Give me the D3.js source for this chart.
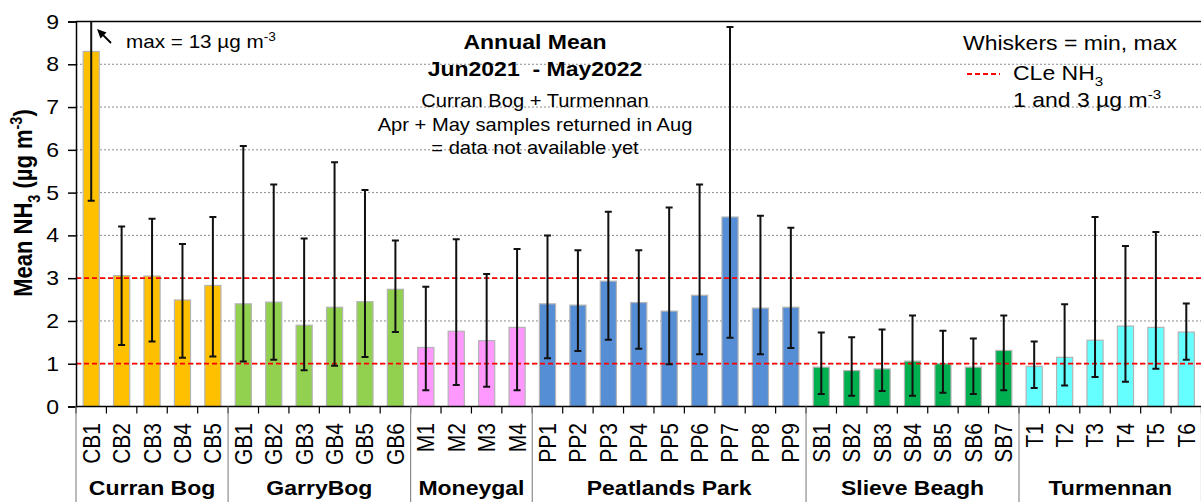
<!DOCTYPE html>
<html>
<head>
<meta charset="utf-8">
<script src="https://cdn.jsdelivr.net/npm/d3@7"></script>
<style>
  body { margin: 0; background: #fff; }
  svg { display: block; font-family: "Liberation Sans", Arial, sans-serif; }
</style>
</head>
<body>
<svg id="chart" width="1201" height="502"></svg>
<script>
// ---- data: annual mean NH3 per site, with min / max whiskers ----
const sites = [
  "CB1","CB2","CB3","CB4","CB5",
  "GB1","GB2","GB3","GB4","GB5","GB6",
  "M1","M2","M3","M4",
  "PP1","PP2","PP3","PP4","PP5","PP6","PP7","PP8","PP9",
  "SB1","SB2","SB3","SB4","SB5","SB6","SB7",
  "T1","T2","T3","T4","T5","T6"
];
const groupNames  = ["Curran Bog", "GarryBog", "Moneygal", "Peatlands Park", "Slieve Beagh", "Turmennan"];
const groupSizes  = [5, 6, 4, 9, 7, 6];
const groupColors = ["#FFC000", "#92D050", "#FF99FF", "#558ED5", "#00B050", "#66FFFF"];

const meanNH3 = [
  8.30, 3.06, 3.05, 2.49, 2.83,
  2.40, 2.44, 1.90, 2.32, 2.45, 2.74,
  1.38, 1.76, 1.54, 1.85,
  2.40, 2.37, 2.93, 2.43, 2.23, 2.60, 4.43, 2.30, 2.32,
  0.92, 0.84, 0.88, 1.06, 1.00, 0.92, 1.31,
  0.94, 1.15, 1.55, 1.88, 1.85, 1.74
];
const minNH3 = [
  4.81, 1.44, 1.52, 1.14, 1.17,
  1.05, 1.09, 0.85, 0.95, 1.16, 1.74,
  0.38, 0.50, 0.46, 0.38,
  1.13, 1.30, 1.56, 1.35, 0.99, 1.22, 1.61, 1.22, 1.37,
  0.29, 0.25, 0.36, 0.25, 0.32, 0.29, 0.38,
  0.43, 0.49, 0.69, 0.58, 0.88, 1.09
];
const maxNH3 = [
  13.0, 4.21, 4.39, 3.80, 4.43,
  6.09, 5.19, 3.93, 5.71, 5.06, 3.88,
  2.80, 3.91, 3.10, 3.68,
  4.00, 3.65, 4.55, 3.65, 4.65, 5.19, 8.87, 4.46, 4.18,
  1.73, 1.62, 1.80, 2.13, 1.77, 1.59, 2.13,
  1.52, 2.39, 4.43, 3.75, 4.08, 2.41
];
const yTicks = [0, 1, 2, 3, 4, 5, 6, 7, 8, 9];
const criticalLevels = [1, 3];

// ---- layout ----
const svg = d3.select("#chart");
const plotLeft = 76, plotRight = 1201.5, plotTop = 21.5, plotBottom = 406.5;
const SX = 1.15;               // horizontal stretch applied to all text
const font = '"Liberation Sans", Arial, sans-serif';

const x = d3.scaleBand().domain(sites).range([plotLeft, plotRight]).paddingInner(0.47).paddingOuter(0.235);
const y = d3.scaleLinear().domain([0, 9]).range([plotBottom, plotTop]);

const siteGroup = [];
groupSizes.forEach((n, gi) => { for (let k = 0; k < n; k++) siteGroup.push(gi); });

// text helper: positioned, horizontally stretched, optionally rotated
function label(parent, px, py, opts) {
  const t = parent.append("text")
    .attr("transform", `translate(${px},${py}) scale(${SX},1)` + (opts.rotate ? ` rotate(${opts.rotate})` : ""))
    .attr("font-family", font)
    .attr("font-size", opts.size)
    .attr("font-weight", opts.bold ? "bold" : "normal")
    .attr("text-anchor", opts.anchor || "start")
    .attr("fill", "#000");
  const parts = Array.isArray(opts.text) ? opts.text : [[opts.text, 0]];
  let shift = 0;
  parts.forEach(([s, kind], idx) => {
    const ts = t.append("tspan").text(s);
    let target = 0;
    if (kind === "sub") { target = opts.size * 0.3; ts.attr("font-size", opts.size * 0.66); }
    if (kind === "sup") { target = -opts.size * 0.38; ts.attr("font-size", opts.size * 0.66); }
    let d = target - shift;
    if (idx === 0 && opts.dy) d += opts.dy * opts.size;
    if (d !== 0) ts.attr("dy", d);
    shift = target;
  });
  return t;
}

// ---- gridlines ----
svg.append("g").selectAll("line").data(yTicks.filter(v => v > 0 && v < 9)).join("line")
  .attr("x1", plotLeft).attr("x2", plotRight)
  .attr("y1", d => y(d)).attr("y2", d => y(d))
  .attr("stroke", "#8c8c8c").attr("stroke-width", 1).attr("stroke-dasharray", "2,2");

// top frame line
svg.append("line").attr("x1", plotLeft).attr("x2", plotRight).attr("y1", y(9)).attr("y2", y(9))
  .attr("stroke", "#000").attr("stroke-width", 1.5);

// ---- bars ----
svg.append("g").selectAll("rect").data(sites).join("rect")
  .attr("x", d => x(d))
  .attr("width", x.bandwidth())
  .attr("y", (d, i) => y(meanNH3[i]))
  .attr("height", (d, i) => y(0) - y(meanNH3[i]))
  .attr("fill", (d, i) => groupColors[siteGroup[i]])
  .attr("stroke", "#b4b4b4").attr("stroke-width", 1.2);

// ---- critical level lines ----
svg.append("g").selectAll("line").data(criticalLevels).join("line")
  .attr("x1", plotLeft).attr("x2", plotRight)
  .attr("y1", d => y(d)).attr("y2", d => y(d))
  .attr("stroke", "#FF0000").attr("stroke-width", 1.8).attr("stroke-dasharray", "5,3");

// ---- whiskers (min to max), clipped to the plot area ----
svg.append("clipPath").attr("id", "plotClip").append("rect")
  .attr("x", plotLeft).attr("y", plotTop).attr("width", plotRight - plotLeft).attr("height", plotBottom - plotTop);
const whisk = svg.append("g").attr("clip-path", "url(#plotClip)")
  .attr("stroke", "#111").attr("stroke-width", 2);
const cx = d => x(d) + x.bandwidth() / 2;
whisk.selectAll("line.stem").data(sites).join("line").attr("class", "stem")
  .attr("x1", cx).attr("x2", cx)
  .attr("y1", (d, i) => y(minNH3[i])).attr("y2", (d, i) => y(maxNH3[i]));
whisk.selectAll("line.capLo").data(sites).join("line").attr("class", "capLo")
  .attr("x1", d => cx(d) - 3.5).attr("x2", d => cx(d) + 3.5)
  .attr("y1", (d, i) => y(minNH3[i])).attr("y2", (d, i) => y(minNH3[i]));
whisk.selectAll("line.capHi").data(sites).join("line").attr("class", "capHi")
  .attr("x1", d => cx(d) - 3.5).attr("x2", d => cx(d) + 3.5)
  .attr("y1", (d, i) => y(maxNH3[i])).attr("y2", (d, i) => y(maxNH3[i]));

// ---- y axis ----
const yAxis = svg.append("g").attr("transform", `translate(${plotLeft},0)`)
  .call(d3.axisLeft(y).tickValues(yTicks).tickSize(8).tickFormat(""));
yAxis.select(".domain").attr("stroke", "#000").attr("stroke-width", 1.5);
yAxis.selectAll(".tick line").attr("stroke", "#000").attr("stroke-width", 1.5);
yTicks.forEach(v => label(svg, 59, y(v), { text: String(v), size: 20, anchor: "end", dy: 0.35 }));

label(svg, 32, 203, {
  text: [["Mean NH", 0], ["3", "sub"], [" (µg m", 0], ["-3", "sup"], [")", 0]],
  size: 22, bold: true, anchor: "middle", rotate: -90
});

// ---- x axis: baseline, boundary ticks, group separators ----
svg.append("line").attr("x1", plotLeft).attr("x2", plotRight).attr("y1", plotBottom).attr("y2", plotBottom)
  .attr("stroke", "#000").attr("stroke-width", 1.5);
const boundaries = d3.range(sites.length + 1).map(i => plotLeft + i * x.step());
svg.append("g").selectAll("line").data(boundaries).join("line")
  .attr("x1", d => d).attr("x2", d => d).attr("y1", plotBottom).attr("y2", plotBottom + 7)
  .attr("stroke", "#000").attr("stroke-width", 1.2);
const groupStarts = groupSizes.map((n, i) => d3.sum(groupSizes.slice(0, i)));
svg.append("g").selectAll("line").data(groupStarts.concat([sites.length])).join("line")
  .attr("x1", d => plotLeft + d * x.step()).attr("x2", d => plotLeft + d * x.step())
  .attr("y1", plotBottom).attr("y2", 502)
  .attr("stroke", "#8c8c8c").attr("stroke-width", 1.2);

sites.forEach(s => label(svg, cx(s), 423, { text: s, size: 21, anchor: "end", rotate: -90, dy: 0.35 }));
groupNames.forEach((g, i) => {
  const mid = plotLeft + (groupStarts[i] + groupSizes[i] / 2) * x.step();
  label(svg, mid, 495, { text: g, size: 20, bold: true, anchor: "middle" });
});

// ---- annotations ----
label(svg, 535, 49, { text: "Annual Mean", size: 20, bold: true, anchor: "middle" });
label(svg, 535, 76, { text: "Jun2021  - May2022", size: 20, bold: true, anchor: "middle" }).attr("xml:space", "preserve").style("white-space", "pre");
label(svg, 535, 107, { text: "Curran Bog + Turmennan", size: 17.5, anchor: "middle" });
label(svg, 535, 131, { text: "Apr + May samples returned in Aug", size: 17.5, anchor: "middle" });
label(svg, 535, 154, { text: "= data not available yet", size: 17.5, anchor: "middle" });

label(svg, 126, 48, { text: [["max = 13 µg m", 0], ["-3", "sup"]], size: 18 });
svg.append("line").attr("x1", 111).attr("y1", 43).attr("x2", 101).attr("y2", 33)
  .attr("stroke", "#000").attr("stroke-width", 1.8);
svg.append("path").attr("d", "M97,29 L106.5,32.5 L100.5,38.5 Z").attr("fill", "#000");

label(svg, 963, 50, { text: "Whiskers = min, max", size: 20 });
svg.append("line").attr("x1", 967).attr("x2", 1000).attr("y1", 74).attr("y2", 74)
  .attr("stroke", "#FF0000").attr("stroke-width", 1.8).attr("stroke-dasharray", "5,3");
label(svg, 1013, 80, { text: [["CLe NH", 0], ["3", "sub"]], size: 20 });
label(svg, 1013, 107, { text: [["1 and 3 µg m", 0], ["-3", "sup"]], size: 20 });
</script>
</body>
</html>
